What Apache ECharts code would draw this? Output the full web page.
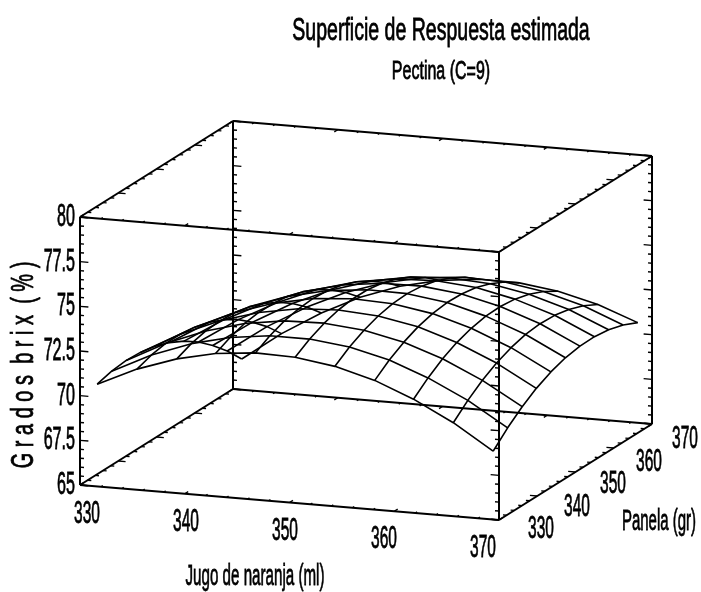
<!DOCTYPE html>
<html><head><meta charset="utf-8">
<style>html,body{margin:0;padding:0;background:#fff}#c{width:701px;height:592px}</style>
<script src="https://cdn.jsdelivr.net/npm/echarts@6/dist/echarts.min.js"></script>
</head><body><div id="c"></div>
<script>
const titleText = 'Superficie de Respuesta estimada';
const subtitleText = 'Pectina (C=9)';
const xAxisName = 'Jugo de naranja (ml)';
const yAxisName = 'Panela (gr)';
const zAxisName = 'G r a d o s  b r i x  ( % )';

const xTickLabels = [330, 340, 350, 360, 370];
const yTickLabels = [330, 340, 350, 360, 370];
const zTickLabels = [65, 67.5, 70, 72.5, 75, 77.5, 80];

const juiceValues  = [331.2, 335, 338.8, 342.5, 346.3, 350.1, 353.9, 357.7, 361.4, 365.2, 369];
const panelaValues = [331.2, 335, 338.8, 342.5, 346.3, 350.1, 353.9, 357.7, 361.4, 365.2, 369];

const brixJ0  = [70.54, 70.76, 70.85, 70.80, 70.63, 70.33, 69.90, 69.34, 68.65, 67.83, 66.87];
const brixJ1  = [71.57, 71.85, 72.00, 72.00, 71.89, 71.65, 71.28, 70.78, 70.14, 69.38, 68.48];
const brixJ2  = [72.33, 72.67, 72.87, 72.94, 72.88, 72.70, 72.38, 71.94, 71.37, 70.66, 69.82];
const brixJ3  = [72.81, 73.20, 73.47, 73.59, 73.59, 73.47, 73.21, 72.83, 72.31, 71.66, 70.88];
const brixJ4  = [73.03, 73.48, 73.80, 73.98, 74.05, 73.98, 73.78, 73.45, 72.99, 72.40, 71.68];
const brixJ5  = [72.97, 73.48, 73.86, 74.10, 74.22, 74.21, 74.07, 73.80, 73.40, 72.87, 72.20];
const brixJ6  = [72.65, 73.22, 73.65, 73.95, 74.13, 74.18, 74.09, 73.88, 73.54, 73.07, 72.45];
const brixJ7  = [72.05, 72.68, 73.17, 73.53, 73.76, 73.87, 73.84, 73.69, 73.40, 72.99, 72.43];
const brixJ8  = [71.18, 71.86, 72.42, 72.83, 73.12, 73.29, 73.32, 73.22, 73.00, 72.64, 72.14];
const brixJ9  = [70.05, 70.79, 71.40, 71.87, 72.22, 72.45, 72.54, 72.50, 72.33, 72.03, 71.59];
const brixJ10 = [68.64, 69.44, 70.11, 70.64, 71.05, 71.33, 71.47, 71.49, 71.38, 71.14, 70.76];
const brixRows = [brixJ0, brixJ1, brixJ2, brixJ3, brixJ4, brixJ5, brixJ6, brixJ7, brixJ8, brixJ9, brixJ10];

// Oblique projection of the 3-D box onto a full-canvas 2-D cartesian system
const XMIN = 330, XMAX = 370, YMIN = 330, YMAX = 370, ZMIN = 65, ZMAX = 80;
function project(x, y, z) {
  const u = (x - XMIN) / (XMAX - XMIN), v = (y - YMIN) / (YMAX - YMIN), w = (z - ZMIN) / (ZMAX - ZMIN);
  return [80 + 419 * u + 153 * v, 485 + 35 * u - 96 * v - 268 * w];
}

const lineSeries = (pts, width) => ({
  type: 'line', data: pts, symbol: 'none', silent: true, animation: false, clip: false,
  lineStyle: { color: '#000', width: width, join: 'round' }
});

const series = [];
// surface mesh
brixRows.forEach((row, i) => {
  series.push(lineSeries(row.map((z, j) => project(juiceValues[i], panelaValues[j], z)), 1.6));
});
panelaValues.forEach((p, j) => {
  series.push(lineSeries(juiceValues.map((x, i) => project(x, p, brixRows[i][j])), 1.6));
});
// box edges
const xs = [XMIN, XMAX], ys = [YMIN, YMAX], zs = [ZMIN, ZMAX];
xs.forEach(x => ys.forEach(y => series.push(lineSeries([project(x, y, ZMIN), project(x, y, ZMAX)], 2))));
ys.forEach(y => zs.forEach(z => series.push(lineSeries([project(XMIN, y, z), project(XMAX, y, z)], 2))));
xs.forEach(x => zs.forEach(z => series.push(lineSeries([project(x, YMIN, z), project(x, YMAX, z)], 2))));

// tick marks
const segs = [];
const addSeg = (a, b) => segs.push([a[0], a[1], b[0], b[1]]);
for (let i = 0; i <= 30; i++) {
  const z = ZMIN + i * 0.5, d = i % 5 === 0 ? 0.8 : 0.38;
  [YMIN, YMAX].forEach(y => {
    addSeg(project(XMIN, y, z), project(XMIN + d, y, z));
    addSeg(project(XMAX, y, z), project(XMAX - d, y, z));
  });
}
for (let i = 0; i <= 20; i++) {
  const t = XMIN + i * 2, major = i % 5 === 0;
  const dv = major ? 0.9 : 0.5, dx = major ? 0.7 : 0.35;
  zs.forEach(z => {
    addSeg(project(t, YMIN, z), project(t, YMIN + dv, z));
    addSeg(project(t, YMAX, z), project(t, YMAX - dv, z));
    addSeg(project(XMIN, t, z), project(XMIN + dx, t, z));
    addSeg(project(XMAX, t, z), project(XMAX - dx, t, z));
  });
}
series.push({
  type: 'custom', data: segs, silent: true, animation: false, clip: false,
  renderItem: (p, api) => {
    const a = api.coord([api.value(0), api.value(1)]), b = api.coord([api.value(2), api.value(3)]);
    return { type: 'line', shape: { x1: a[0], y1: a[1], x2: b[0], y2: b[1] }, style: { stroke: '#000', lineWidth: 1.4 } };
  }
});

// text marks
const FONT = '"Liberation Sans", Arial, sans-serif';
const texts = [];
const addText = (text, pos, size, scaleX, rotation) => texts.push({ value: [pos[0], pos[1]], text, size, scaleX, rotation: rotation || 0 });
zTickLabels.forEach(z => {
  const p = project(XMIN, YMIN, z);
  addText(String(z), [p[0] - 5, p[1] + 0.5], 31, 0.52);
  texts[texts.length - 1].align = 'right';
});
xTickLabels.forEach(x => {
  const p = project(x, YMIN, ZMIN), f = (x - XMIN) / (XMAX - XMIN);
  addText(String(x), [p[0] + 7 - 23 * f, p[1] + 29 - f], 31, 0.5);
});
yTickLabels.forEach(y => {
  const p = project(XMAX, y, ZMIN), f = (y - YMIN) / (YMAX - YMIN);
  addText(String(y), [p[0] + 42 - 9 * f, p[1] + 9.5 + 6 * f], 31, 0.5);
});
addText(titleText, [441, 31], 31, 0.63);
addText(subtitleText, [441, 72], 25, 0.64);
addText(xAxisName, [255, 577], 30, 0.505);
addText(yAxisName, [659, 522], 30, 0.5);
addText(zAxisName, [24, 365], 32, 0.625, Math.PI / 2);

series.push({
  type: 'custom', data: texts, silent: true, animation: false, clip: false,
  renderItem: (p, api) => {
    const t = texts[p.dataIndex], c = api.coord(t.value);
    return {
      type: 'text', x: c[0], y: c[1], scaleX: t.scaleX, scaleY: 1, rotation: t.rotation,
      style: { text: t.text, fill: '#000', stroke: '#000', lineWidth: 0.8,
        font: t.size + 'px ' + FONT, align: t.align || 'center', verticalAlign: 'middle' }
    };
  }
});

const chart = echarts.init(document.getElementById('c'), null, { renderer: 'canvas' });
chart.setOption({
  backgroundColor: '#fff', animation: false,
  grid: { left: 0, right: 0, top: 0, bottom: 0 },
  xAxis: { type: 'value', min: 0, max: 701, show: false },
  yAxis: { type: 'value', min: 0, max: 592, inverse: true, show: false },
  series
});
</script></body></html>
